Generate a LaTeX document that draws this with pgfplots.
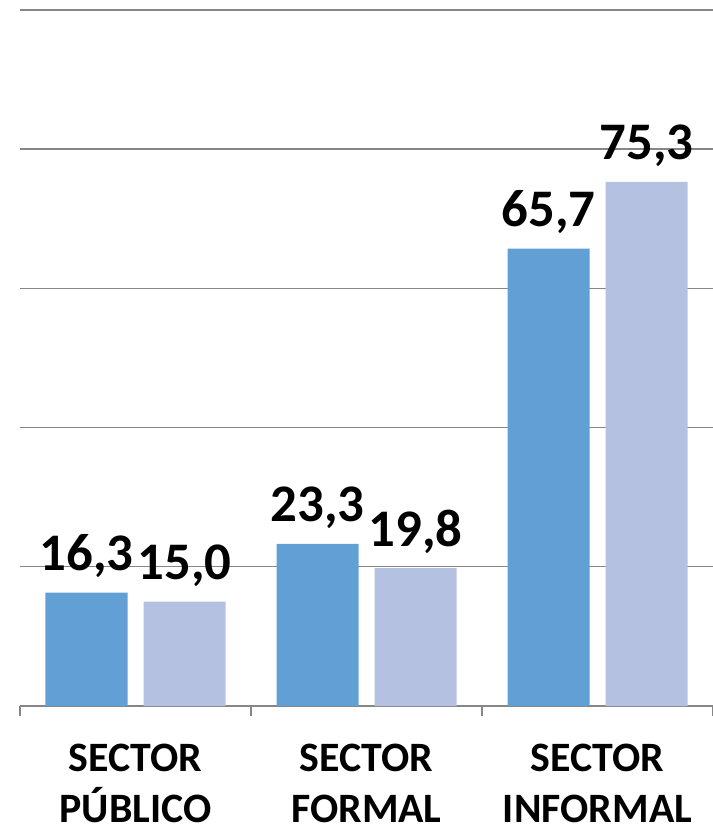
\documentclass[border=0pt]{standalone}
\usepackage{pgfplots}
\pgfplotsset{compat=1.18}
\usepackage{fontspec}
\setmainfont{Carlito}
\definecolor{bblue}{HTML}{619FD4}
\definecolor{lblue}{HTML}{B4C1E0}
\definecolor{gridg}{HTML}{868686}
\begin{document}
\begin{tikzpicture}
\path[use as bounding box] (-20bp,-126bp) rectangle (693bp,706bp);
\begin{axis}[
  at={(0,0)}, anchor=south west,
  scale only axis,
  width=693bp, height=696bp,
  xmin=-0.5, xmax=2.5,
  ymin=0, ymax=100,
  axis x line*=bottom,
  axis y line*=left,
  y axis line style={draw=none},
  major y tick style={draw=none},
  ytick={0,20,40,60,80,100},
  yticklabels={},
  ymajorgrids,
  grid style={gridg, line width=1.4bp},
  x axis line style={gridg, line width=1.4bp, -},
  xtick={0,1,2},
  xticklabels={{SECTOR\\PÚBLICO},{SECTOR\\FORMAL},{SECTOR\\INFORMAL}},
  major x tick style={draw=none},
  minor xtick={-0.5,0.5,1.5,2.5},
  minor x tick style={gridg, line width=1.4bp},
  tick align=outside,
  minor tick length=10bp,
  xticklabel style={align=center, font=\fontsize{42}{51}\selectfont\bfseries, yshift=-30bp},
  ybar=16bp,
  bar width=82bp,
  nodes near coords,
  every node near coord/.append style={font=\fontsize{53}{53}\selectfont\bfseries, anchor=base, yshift=22bp, inner sep=0pt},
  /pgf/number format/.cd, use comma, fixed, fixed zerofill, precision=1, assume math mode=true,
]
\addplot[fill=bblue, draw=none] coordinates {(0,16.3) (1,23.3) (2,65.7)};
\addplot[fill=lblue, draw=none] coordinates {(0,15.0) (1,19.8) (2,75.3)};
\end{axis}
\end{tikzpicture}
\end{document}
